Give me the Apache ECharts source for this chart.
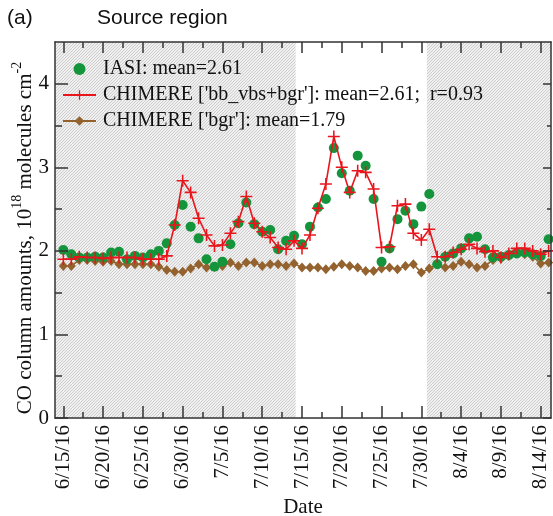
<!DOCTYPE html>
<html>
<head>
<meta charset="utf-8">
<script src="https://cdn.jsdelivr.net/npm/echarts@6/dist/echarts.min.js"></script>
<style>
html,body{margin:0;padding:0;background:#fff;}
#chart{width:553px;height:516px;}
</style>
</head>
<body>
<div id="chart"></div>
<script>
// ---- data (day 0 = 6/15/2016, one value per day) ----
var startDate = [2016, 5, 15];
var iasi = [2.01,1.96,1.92,1.92,1.93,1.92,1.98,1.99,1.90,1.94,1.92,1.96,2.00,2.09,2.31,2.55,2.29,2.15,1.90,1.81,1.87,2.08,2.33,2.58,2.32,2.23,2.25,2.02,2.12,2.18,2.08,2.29,2.52,2.62,3.23,2.93,2.72,3.14,3.02,2.62,1.87,2.03,2.38,2.48,2.32,2.53,2.68,1.84,1.93,1.97,2.03,2.15,2.17,2.02,1.92,1.93,1.95,1.97,1.98,1.96,1.94,2.14];
var chimereBB = [1.90,1.90,1.93,1.92,1.92,1.91,1.92,1.92,1.92,1.92,1.90,1.90,1.90,1.94,2.31,2.84,2.70,2.39,2.19,2.06,2.07,2.21,2.35,2.65,2.33,2.23,2.16,2.04,2.02,2.12,2.03,2.19,2.51,2.80,3.37,3.00,2.70,2.96,2.94,2.74,2.04,2.05,2.54,2.56,2.21,2.13,2.26,1.93,1.93,1.98,2.02,2.08,2.03,1.99,2.00,1.92,1.97,2.03,2.03,2.00,1.96,2.00];
var chimereBgr = [1.82,1.82,1.89,1.89,1.88,1.87,1.88,1.84,1.84,1.84,1.84,1.84,1.81,1.77,1.75,1.75,1.79,1.84,1.80,1.81,1.82,1.86,1.82,1.86,1.86,1.82,1.84,1.84,1.82,1.85,1.80,1.80,1.80,1.78,1.81,1.84,1.82,1.80,1.76,1.76,1.79,1.80,1.78,1.82,1.84,1.74,1.79,1.84,1.80,1.82,1.87,1.84,1.80,1.82,1.89,1.91,1.94,1.97,1.96,1.93,1.85,1.86];
var seriesNames = ["IASI: mean=2.61", "CHIMERE ['bb_vbs+bgr']: mean=2.61;  r=0.93", "CHIMERE ['bgr']: mean=1.79"];
var xMajorTicks = [0,5,10,15,20,25,30,35,40,45,50,55,60];
var xMinorTicks = [2.5,7.5,12.5,17.5,22.5,27.5,32.5,37.5,42.5,47.5,52.5,57.5];
var yMajorTicks = [0,1,2,3,4];
var yMinorTicks = [0.5,1.5,2.5,3.5];
var shadedRanges = [[-1.05, 29.2], [45.7, 61.3]];
var xMin = -1.05, xMax = 61.3, yMin = 0, yMax = 4.5;

function dayLabel(d) {
  var dt = new Date(startDate[0], startDate[1], startDate[2] + Math.round(d));
  return (dt.getMonth() + 1) + '/' + dt.getDate() + '/' + String(dt.getFullYear()).slice(2);
}
function pairs(arr) { return arr.map(function (v, i) { return [i, v]; }); }

// hatch pattern
var pc = document.createElement('canvas');
pc.width = 6; pc.height = 6;
var g = pc.getContext('2d');
g.fillStyle = '#f0f0f0'; g.fillRect(0, 0, 6, 6);
g.strokeStyle = '#cdcdcd'; g.lineWidth = 1;
for (var o = -6; o <= 12; o += 3) { g.beginPath(); g.moveTo(o, 6); g.lineTo(o + 6, 0); g.stroke(); }

var serif = 'Liberation Serif';
var axisColor = '#333';
var chart = echarts.init(document.getElementById('chart'), null, {renderer: 'canvas'});
var plus = 'path://M4.35,0H5.65V4.35H10V5.65H5.65V10H4.35V5.65H0V4.35H4.35Z';

function xAx(pos, ticks, len, showLine, showLabel) {
  return {
    type: 'value', position: pos, min: xMin, max: xMax, z: 10,
    axisLine: {show: showLine, onZero: false, lineStyle: {color: axisColor, width: 1.5}},
    axisTick: {show: true, inside: true, length: len, customValues: ticks, lineStyle: {color: axisColor, width: 1.5}},
    axisLabel: showLabel ? {show: true, customValues: ticks, rotate: 90, margin: 7,
      fontFamily: serif, fontSize: 21, color: '#111', formatter: function (v) { return dayLabel(v); }} : {show: false},
    splitLine: {show: false},
    name: showLabel ? 'Date' : '', nameLocation: 'middle', nameGap: 79,
    nameTextStyle: {fontFamily: serif, fontSize: 21, color: '#111'}
  };
}
function yAx(pos, ticks, len, showLine, showLabel) {
  return {
    type: 'value', position: pos, min: yMin, max: yMax, z: 10,
    axisLine: {show: showLine, onZero: false, lineStyle: {color: axisColor, width: 1.5}},
    axisTick: {show: true, inside: true, length: len, customValues: ticks, lineStyle: {color: axisColor, width: 1.5}},
    axisLabel: showLabel ? {show: true, customValues: ticks, margin: 6, fontFamily: serif, fontSize: 21, color: '#111'} : {show: false},
    splitLine: {show: false}
  };
}

var option = {
  animation: false,
  backgroundColor: '#fff',
  title: [
    {text: '(a)', left: 7, top: 8, padding: 0, textStyle: {fontFamily: 'Liberation Sans', fontSize: 21, fontWeight: 'normal', color: '#111'}},
    {text: 'Source region', left: 97, top: 8, padding: 0, textStyle: {fontFamily: 'Liberation Sans', fontSize: 21, fontWeight: 'normal', color: '#111'}}
  ],
  legend: {
    orient: 'vertical', left: 57, top: 54, itemWidth: 33, itemHeight: 12, itemGap: 6,
    data: seriesNames,
    textStyle: {fontFamily: serif, fontSize: 20, color: '#111', padding: [0, 0, 0, 2]}
  },
  graphic: [{
    type: 'text', x: 23, y: 238, rotation: Math.PI / 2, silent: true,
    style: {
      text: '{a|CO column amounts, 10}{s|18}{a| molecules cm}{s|-2}',
      align: 'center', verticalAlign: 'middle',
      rich: {
        a: {fontFamily: serif, fontSize: 21, fill: '#111', lineHeight: 26, verticalAlign: 'bottom'},
        s: {fontFamily: serif, fontSize: 14, fill: '#111', lineHeight: 26, verticalAlign: 'top'}
      }
    }
  }],
  grid: {left: 55, right: 2, top: 42, bottom: 98, containLabel: false, outerBoundsMode: 'none'},
  xAxis: [
    xAx('bottom', xMajorTicks, 12, true, true),
    xAx('bottom', xMinorTicks, 6, false, false),
    xAx('top', xMajorTicks, 11, true, false),
    xAx('top', xMinorTicks, 6, false, false)
  ],
  yAxis: [
    yAx('left', yMajorTicks, 13, true, true),
    yAx('left', yMinorTicks, 7, false, false),
    yAx('right', yMajorTicks, 8, true, false),
    yAx('right', yMinorTicks, 4, false, false)
  ],
  series: [
    {
      type: 'line', name: 'shade', data: [], z: 0, silent: true,
      markArea: {silent: true, itemStyle: {color: {image: pc, repeat: 'repeat'}},
        data: shadedRanges.map(function (r) { return [{xAxis: r[0]}, {xAxis: r[1]}]; })}
    },
    {
      type: 'line', name: seriesNames[2], data: pairs(chimereBgr), z: 3,
      symbol: 'diamond', symbolSize: [9, 10], showAllSymbol: true,
      lineStyle: {color: '#93622f', width: 1.6}, itemStyle: {color: '#93622f'}
    },
    {
      type: 'scatter', name: seriesNames[0], data: pairs(iasi), z: 4,
      symbol: 'circle', symbolSize: 10, itemStyle: {color: '#14953c', opacity: 1}
    },
    {
      type: 'line', name: seriesNames[1], data: pairs(chimereBB), z: 5,
      symbol: plus, symbolSize: 12, showAllSymbol: true,
      lineStyle: {color: '#e8161c', width: 1.6}, itemStyle: {color: '#e8161c'}
    }
  ]
};
chart.setOption(option);
</script>
</body>
</html>
